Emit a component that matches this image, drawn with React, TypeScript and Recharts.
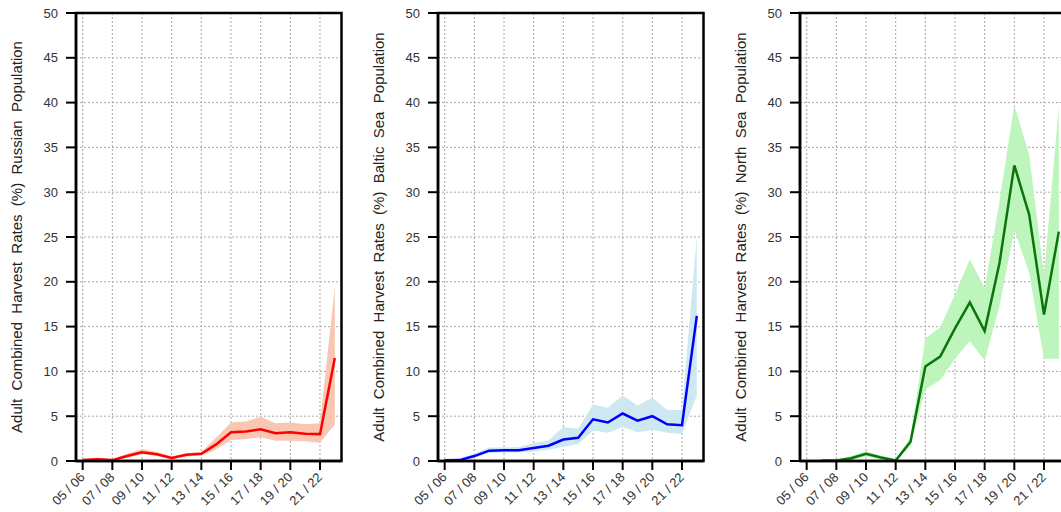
import React from 'react';
import { ComposedChart, Line, Area, XAxis, YAxis, CartesianGrid, ReferenceArea } from 'recharts';

const seasons = [
  '05 / 06', '06 / 07', '07 / 08', '08 / 09', '09 / 10', '10 / 11', '11 / 12', '12 / 13', '13 / 14',
  '14 / 15', '15 / 16', '16 / 17', '17 / 18', '18 / 19', '19 / 20', '20 / 21', '21 / 22', '22 / 23',
];
const xTicks = [0, 2, 4, 6, 8, 10, 12, 14, 16];
const yTicks = [0, 5, 10, 15, 20, 25, 30, 35, 40, 45, 50];
const X_DOMAIN: [number, number] = [-0.45, 17.45];
const Y_DOMAIN: [number, number] = [0, 50];

const russianMean = [0.1, 0.2, 0.1, 0.55, 0.97, 0.75, 0.35, 0.7, 0.8, 1.85, 3.2, 3.3, 3.55, 3.1, 3.2, 3.05, 3.0, 11.5];
const russianLow = [0, 0.1, 0, 0.35, 0.75, 0.55, 0.2, 0.5, 0.6, 1.3, 2.35, 2.45, 2.65, 2.25, 2.25, 2.2, 2.05, 4.1];
const russianHigh = [0.2, 0.3, 0.2, 0.8, 1.35, 1.0, 0.5, 0.9, 1.0, 2.6, 4.3, 4.4, 4.95, 4.2, 4.3, 4.1, 4.2, 19.4];

const balticMean = [0.07, 0.1, 0.55, 1.15, 1.2, 1.2, 1.45, 1.7, 2.4, 2.6, 4.65, 4.3, 5.3, 4.5, 5.0, 4.1, 4.0, 16.2];
const balticLow = [0, 0, 0.35, 0.9, 0.95, 0.95, 1.05, 1.25, 1.6, 1.9, 3.4, 3.15, 3.8, 3.2, 3.5, 3.15, 3.0, 7.3];
const balticHigh = [0.2, 0.25, 0.8, 1.5, 1.5, 1.55, 2.0, 2.3, 3.8, 3.6, 6.3, 5.95, 7.3, 6.2, 7.05, 5.7, 5.7, 25.1];

const northMean = [null, 0.05, 0.05, 0.3, 0.8, 0.4, 0.05, 2.15, 10.55, 11.65, 14.8, 17.7, 14.5, 22.1, 33.0, 27.5, 16.35, 25.6];
const northLow = [null, 0, 0, 0.1, 0.5, 0.2, 0, 1.7, 8.0, 9.0, 11.4, 13.4, 11.2, 17.3, 25.8, 21.0, 11.4, 11.4];
const northHigh = [null, 0.15, 0.15, 0.55, 1.1, 0.6, 0.2, 2.6, 13.7, 14.9, 18.6, 22.5, 19.3, 29.0, 39.7, 34.2, 20.8, 39.6];

type Num = number | null;

function buildRows(mean: Num[], low: Num[], high: Num[]) {
  return seasons.map((s, i) => ({
    i,
    season: s,
    mean: mean[i],
    band: mean[i] == null ? null : [low[i], high[i]],
  }));
}

const panels = [
  {
    title: 'Adult  Combined  Harvest  Rates  (%)  Russian  Population',
    rows: buildRows(russianMean, russianLow, russianHigh),
    line: '#ff0000',
    fill: '#f9c6b2',
    left: 0,
  },
  {
    title: 'Adult  Combined  Harvest  Rates  (%)  Baltic  Sea  Population',
    rows: buildRows(balticMean, balticLow, balticHigh),
    line: '#0000ff',
    fill: '#cde8f1',
    left: 362.3,
  },
  {
    title: 'Adult  Combined  Harvest  Rates  (%)  North  Sea  Population',
    rows: buildRows(northMean, northLow, northHigh),
    line: '#0a760a',
    fill: '#bdf5bd',
    left: 724,
  },
];

const FONT = '"Liberation Sans", Arial, Helvetica, sans-serif';

const XTick = (props: any) => {
  const { x, y, payload } = props;
  const label = seasons[payload.value] ?? '';
  const ax = x + 3;
  const ay = y + 6;
  return (
    <text
      x={ax}
      y={ay}
      transform={`rotate(-45, ${ax}, ${ay})`}
      textAnchor="end"
      fontSize={13}
      fill="#333"
      fontFamily={FONT}
      style={{ whiteSpace: 'pre' }}
    >
      {label}
    </text>
  );
};

const makeTitle = (title: string) => (props: any) => {
  const vb = props.viewBox || {};
  const tx = vb.x + vb.width - 54;
  const ty = vb.y + vb.height / 2;
  return (
    <text
      x={tx}
      y={ty}
      transform={`rotate(-90, ${tx}, ${ty})`}
      textAnchor="middle"
      fontSize={15}
      fill="#222"
      fontFamily={FONT}
      style={{ whiteSpace: 'pre' }}
    >
      {title}
    </text>
  );
};

export default function App() {
  return (
    <div
      style={{
        position: 'fixed',
        left: 0,
        top: 0,
        width: 1061,
        height: 512,
        overflow: 'hidden',
        background: '#fff',
        fontFamily: FONT,
      }}
    >
      {panels.map((p, k) => (
        <div key={k} style={{ position: 'absolute', left: p.left, top: 0 }}>
          <ComposedChart
            width={366}
            height={512}
            data={p.rows}
            margin={{ top: 13, right: 24.5, bottom: 0, left: 0 }}
          >
            <CartesianGrid stroke="#a8a8a8" strokeDasharray="2 2" strokeWidth={1} />
            <XAxis
              dataKey="i"
              type="number"
              domain={X_DOMAIN}
              ticks={xTicks}
              allowDataOverflow
              interval={0}
              height={51}
              tickSize={9}
              tickMargin={2}
              axisLine={{ stroke: '#000', strokeWidth: 2.5 }}
              tickLine={{ stroke: '#000', strokeWidth: 2 }}
              tick={<XTick />}
            />
            <YAxis
              type="number"
              domain={Y_DOMAIN}
              ticks={yTicks}
              allowDataOverflow
              interval={0}
              width={76}
              tickSize={10}
              tickMargin={8}
              axisLine={{ stroke: '#000', strokeWidth: 2.5 }}
              tickLine={{ stroke: '#000', strokeWidth: 2 }}
              tick={{ fontSize: 13, fill: '#333', fontFamily: FONT }}
              label={{ content: makeTitle(p.title) }}
            />
            <Area
              dataKey="band"
              type="linear"
              stroke="none"
              fill={p.fill}
              fillOpacity={1}
              isAnimationActive={false}
              dot={false}
              activeDot={false}
            />
            <Line
              dataKey="mean"
              type="linear"
              stroke={p.line}
              strokeWidth={2.5}
              dot={false}
              activeDot={false}
              isAnimationActive={false}
            />
            <ReferenceArea
              x1={X_DOMAIN[0]}
              x2={X_DOMAIN[1]}
              y1={Y_DOMAIN[0]}
              y2={Y_DOMAIN[1]}
              fill="none"
              fillOpacity={0}
              stroke="#000"
              strokeWidth={2.5}
              ifOverflow="visible"
            />
          </ComposedChart>
        </div>
      ))}
    </div>
  );
}
